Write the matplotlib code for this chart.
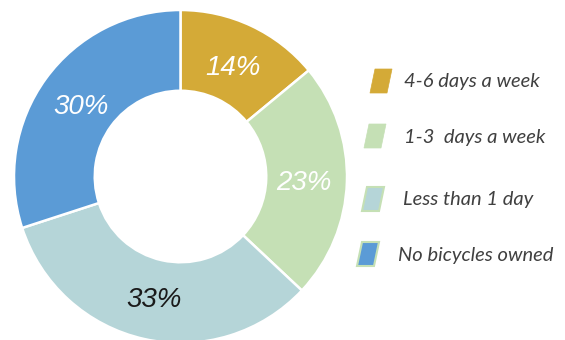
import matplotlib
matplotlib.use('Agg')
import matplotlib.pyplot as plt
from matplotlib.patches import Polygon

categories = ['4-6 days a week', '1-3  days a week', 'Less than 1 day', 'No bicycles owned']
shares = [14, 23, 33, 30]
sliceColors = ['#D4AA37', '#C5E0B5', '#B5D5D8', '#5B9BD6']
labelColors = ['white', 'white', '#1a1a1a', 'white']
markerEdges = [None, None, '#C5E0B5', '#C5E0B5']

W, H = 565, 340
fig = plt.figure(figsize=(W / 100, H / 100), dpi=100)

# donut centred at (180.5, 176.5) px, outer radius 166.5 px
cx, cy, R = 180.5, 176.5, 166.5
ax = fig.add_axes([(cx - R) / W, (H - cy - R) / H, 2 * R / W, 2 * R / H])
wedges, texts, autotexts = ax.pie(shares, colors=sliceColors, startangle=90, counterclock=False,
                                  radius=1, autopct='%d%%', pctdistance=0.74,
                                  wedgeprops=dict(width=0.485, edgecolor='white', linewidth=1.8))
for t, c in zip(autotexts, labelColors):
    t.set_color(c)
    t.set_fontsize(20)
    t.set_fontstyle('italic')
    t.set_family('Liberation Sans')
    t.set_va('center_baseline')
ax.set_xlim(-1, 1)
ax.set_ylim(-1, 1)
ax.axis('off')

# legend: skewed swatches with italic labels
swatchX = [370, 364, 362, 357]
swatchY = [93, 148, 211, 266]
textX = [404, 404, 403, 398]
for i, lbl in enumerate(categories):
    x0, y0 = swatchX[i], swatchY[i]
    pts = [(x0, y0), (x0 + 17, y0), (x0 + 22, y0 - 24), (x0 + 5, y0 - 24)]
    pts = [(px / W, 1 - py / H) for px, py in pts]
    ec = markerEdges[i] if markerEdges[i] else sliceColors[i]
    fig.patches.append(Polygon(pts, closed=True, facecolor=sliceColors[i], edgecolor=ec,
                               linewidth=1.5 if markerEdges[i] else 0.5,
                               transform=fig.transFigure))
    fig.text(textX[i] / W, 1 - (y0 - 11) / H, lbl, fontsize=14.5, fontstyle='italic',
             family='Lato', color='#404040', va='center', ha='left')

fig.savefig('out.png', dpi=100)
plt.close()
